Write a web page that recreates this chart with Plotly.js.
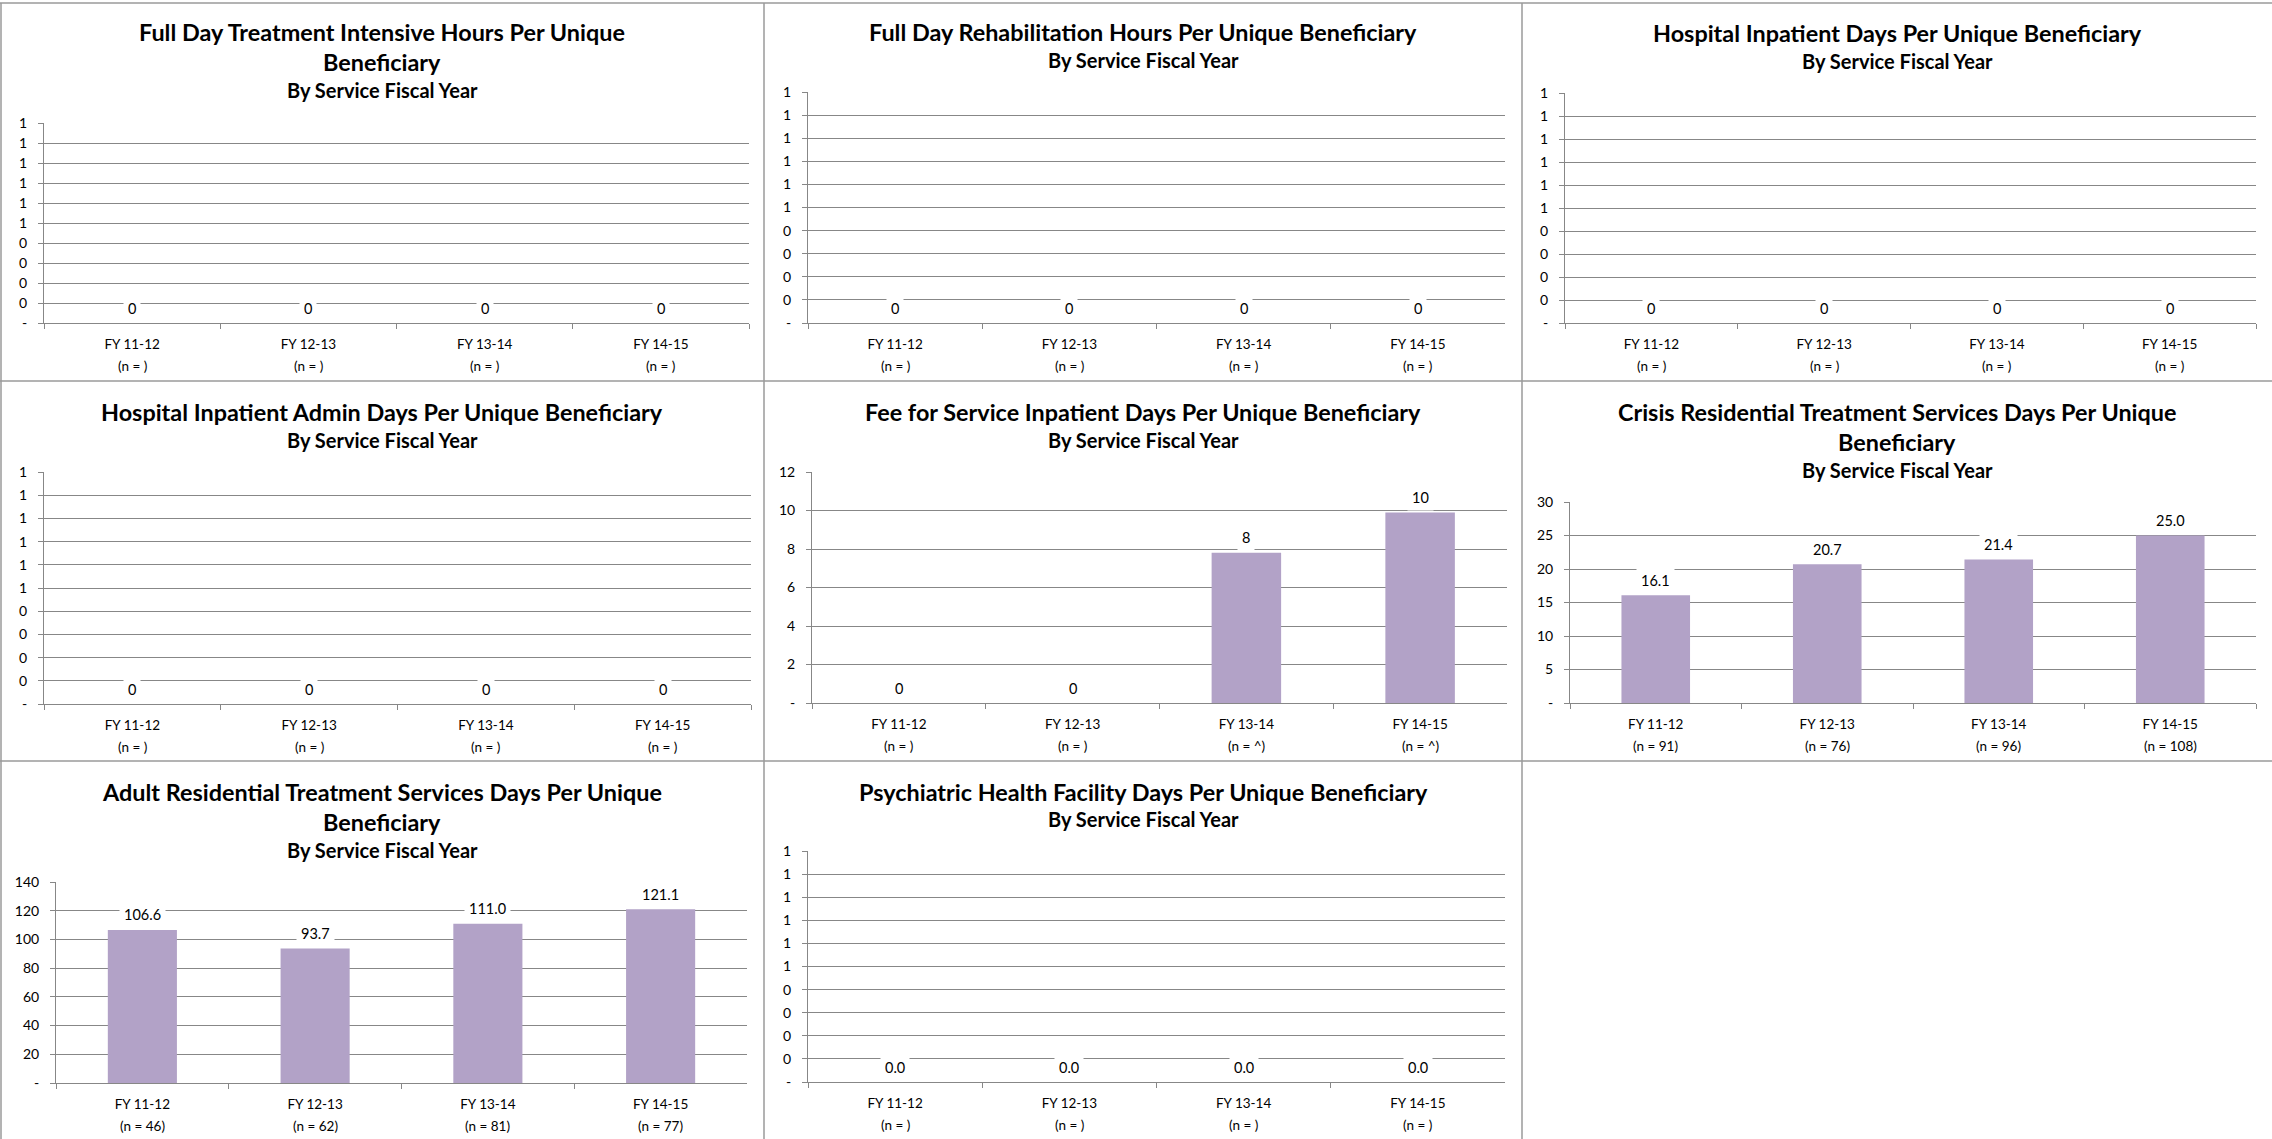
<!DOCTYPE html>
<html><head><meta charset="utf-8">
<script src="https://cdn.plot.ly/plotly-3.0.1.min.js"></script>
<style>html,body{margin:0;padding:0;background:#fff;overflow:hidden}#chart{width:2272px;height:1139px}</style>
</head><body><div id="chart"></div>
<script>
// ---------- DATA ----------
const categories = ['FY 11-12', 'FY 12-13', 'FY 13-14', 'FY 14-15'];

const fullDayIntensiveValues = [0, 0, 0, 0];
const fullDayRehabValues = [0, 0, 0, 0];
const hospitalInpatientValues = [0, 0, 0, 0];
const hospitalAdminValues = [0, 0, 0, 0];
const feeForServiceValues = [0, 0, 7.8, 9.9];
const crisisResidentialValues = [16.1, 20.7, 21.4, 25.0];
const adultResidentialValues = [106.6, 93.7, 111.0, 121.1];
const psychHealthValues = [0, 0, 0, 0];

const emptyN = ['(n = )', '(n = )', '(n = )', '(n = )'];
const feeForServiceN = ['(n = )', '(n = )', '(n = ^)', '(n = ^)'];
const crisisN = ['(n = 91)', '(n = 76)', '(n = 96)', '(n = 108)'];
const adultN = ['(n = 46)', '(n = 62)', '(n = 81)', '(n = 77)'];

const emptyTickVals = [0, 0.1, 0.2, 0.3, 0.4, 0.5, 0.6, 0.7, 0.8, 0.9, 1.0];
const emptyTickText = ['-', '0', '0', '0', '0', '1', '1', '1', '1', '1', '1'];
const feeTickVals = [0, 2, 4, 6, 8, 10, 12];
const feeTickText = ['-', '2', '4', '6', '8', '10', '12'];
const crisisTickVals = [0, 5, 10, 15, 20, 25, 30];
const crisisTickText = ['-', '5', '10', '15', '20', '25', '30'];
const adultTickVals = [0, 20, 40, 60, 80, 100, 120, 140];
const adultTickText = ['-', '20', '40', '60', '80', '100', '120', '140'];

const subtitle = 'By Service Fiscal Year';
const titleFullDayIntensive = ['Full Day Treatment Intensive Hours Per Unique', 'Beneficiary'];
const titleFullDayRehab = ['Full Day Rehabilitation Hours Per Unique Beneficiary'];
const titleHospitalInpatient = ['Hospital Inpatient Days Per Unique Beneficiary'];
const titleHospitalAdmin = ['Hospital Inpatient Admin Days Per Unique Beneficiary'];
const titleFeeForService = ['Fee for Service Inpatient Days Per Unique Beneficiary'];
const titleCrisis = ['Crisis Residential Treatment Services Days Per Unique', 'Beneficiary'];
const titleAdult = ['Adult Residential Treatment Services Days Per Unique', 'Beneficiary'];
const titlePsych = ['Psychiatric Health Facility Days Per Unique Beneficiary'];

// ---------- LAYOUT GEOMETRY (pixels) ----------
const W = 2272, H = 1139;
const panels = [
  {vals: fullDayIntensiveValues, n: emptyN, tv: emptyTickVals, tt: emptyTickText, dec: 0, title: titleFullDayIntensive,
   px: [44, 749], py: [123, 323], cx: 382, ty: [32, 62], sy: 90},
  {vals: fullDayRehabValues, n: emptyN, tv: emptyTickVals, tt: emptyTickText, dec: 0, title: titleFullDayRehab,
   px: [808, 1505], py: [92, 323], cx: 1143, ty: [32], sy: 60},
  {vals: hospitalInpatientValues, n: emptyN, tv: emptyTickVals, tt: emptyTickText, dec: 0, title: titleHospitalInpatient,
   px: [1565, 2256], py: [93, 323], cx: 1897, ty: [33], sy: 61},
  {vals: hospitalAdminValues, n: emptyN, tv: emptyTickVals, tt: emptyTickText, dec: 0, title: titleHospitalAdmin,
   px: [44, 751], py: [472, 704], cx: 382, ty: [412], sy: 440},
  {vals: feeForServiceValues, n: feeForServiceN, tv: feeTickVals, tt: feeTickText, dec: 0, title: titleFeeForService,
   px: [812, 1507], py: [472, 703], cx: 1143, ty: [412], sy: 440},
  {vals: crisisResidentialValues, n: crisisN, tv: crisisTickVals, tt: crisisTickText, dec: 1, title: titleCrisis,
   px: [1570, 2256], py: [502, 703], cx: 1897, ty: [412, 442], sy: 470},
  {vals: adultResidentialValues, n: adultN, tv: adultTickVals, tt: adultTickText, dec: 1, title: titleAdult,
   px: [56, 747], py: [882, 1083], cx: 382, ty: [792, 822], sy: 850},
  {vals: psychHealthValues, n: emptyN, tv: emptyTickVals, tt: emptyTickText, dec: 1, title: titlePsych,
   px: [808, 1505], py: [851, 1082], cx: 1143, ty: [792], sy: 819}
];

const FONT = 'Lato, "Open Sans", sans-serif';
const GRID = '#878787';
const BAR = '#b2a2c7';

const data = [];
const layout = {
  width: W, height: H,
  margin: {l: 0, r: 0, t: 0, b: 0, pad: 0},
  paper_bgcolor: '#ffffff', plot_bgcolor: '#ffffff',
  showlegend: false,
  font: {family: FONT, color: '#000000', size: 14},
  annotations: [], shapes: []
};

panels.forEach((p, i) => {
  const k = i + 1;
  const xa = 'xaxis' + (k === 1 ? '' : k), ya = 'yaxis' + (k === 1 ? '' : k);
  const xr = 'x' + (k === 1 ? '' : k), yr = 'y' + (k === 1 ? '' : k);
  data.push({
    type: 'bar', x: categories, y: p.vals, xaxis: xr, yaxis: yr,
    width: 0.4, marker: {color: BAR, line: {width: 0}},
    hoverinfo: 'skip'
  });
  layout[xa] = {
    domain: [p.px[0] / W, p.px[1] / W], anchor: yr,
    type: 'category', range: [-0.5, 3.5],
    tickvals: categories, ticktext: categories,
    tickson: 'boundaries', ticks: 'outside', ticklen: 5, tickcolor: GRID, tickwidth: 1,
    showline: true, linecolor: GRID, linewidth: 1,
    showgrid: false, zeroline: false, fixedrange: true,
    tickfont: {family: FONT, size: 13.5, color: '#000000'},
    ticklabelstandoff: 9
  };
  const top = p.tv[p.tv.length - 1];
  layout[ya] = {
    domain: [1 - p.py[1] / H, 1 - p.py[0] / H], anchor: xr,
    range: [0, top], tickvals: p.tv, ticktext: p.tt,
    ticks: 'outside', ticklen: 5, tickcolor: GRID, tickwidth: 1,
    showline: true, linecolor: GRID, linewidth: 1,
    showgrid: true, gridcolor: GRID, gridwidth: 1,
    zeroline: false, fixedrange: true,
    tickfont: {family: FONT, size: 14, color: '#000000'},
    ticklabelstandoff: 8
  };
  categories.forEach((c, j) => {
    // data labels
    layout.annotations.push({
      xref: xr, yref: yr, x: c, y: p.vals[j],
      text: p.vals[j].toFixed(p.dec), showarrow: false,
      yanchor: 'middle', xanchor: 'center', yshift: 15,
      bgcolor: '#ffffff', borderpad: 4, borderwidth: 1, bordercolor: 'rgba(0,0,0,0)',
      font: {family: FONT, size: 14.5, color: '#000000'}
    });
    // sample size line under the category label
    layout.annotations.push({
      xref: xr, yref: 'paper', x: c, y: 1 - p.py[1] / H,
      text: p.n[j], showarrow: false,
      yanchor: 'middle', xanchor: 'center', yshift: -43,
      font: {family: FONT, size: 13.5, color: '#000000'}
    });
  });
  // titles
  p.title.forEach((line, j) => {
    layout.annotations.push({
      xref: 'paper', yref: 'paper', x: p.cx / W, y: 1 - p.ty[j] / H,
      text: '<b>' + line + '</b>', showarrow: false,
      xanchor: 'center', yanchor: 'middle',
      font: {family: FONT, size: 23.4, color: '#000000'}
    });
  });
  layout.annotations.push({
    xref: 'paper', yref: 'paper', x: p.cx / W, y: 1 - p.sy / H,
    text: '<b>' + subtitle + '</b>', showarrow: false,
    xanchor: 'center', yanchor: 'middle',
    font: {family: FONT, size: 20, color: '#000000'}
  });
});

// panel borders
const BORDER = '#9a9a9a';
const lineShape = (x0, y0, x1, y1) => ({
  type: 'line', xref: 'paper', yref: 'paper',
  x0: x0 / W, y0: 1 - y0 / H, x1: x1 / W, y1: 1 - y1 / H,
  line: {color: BORDER, width: 1.5}, layer: 'above'
});
layout.shapes.push(lineShape(0, 3, W, 3));
layout.shapes.push(lineShape(1, 3, 1, H));
layout.shapes.push(lineShape(764, 3, 764, H));
layout.shapes.push(lineShape(1522, 3, 1522, H));
layout.shapes.push(lineShape(0, 381, W, 381));
layout.shapes.push(lineShape(0, 761, W, 761));

Plotly.newPlot('chart', data, layout, {staticPlot: true, displayModeBar: false});
</script>
</body></html>
